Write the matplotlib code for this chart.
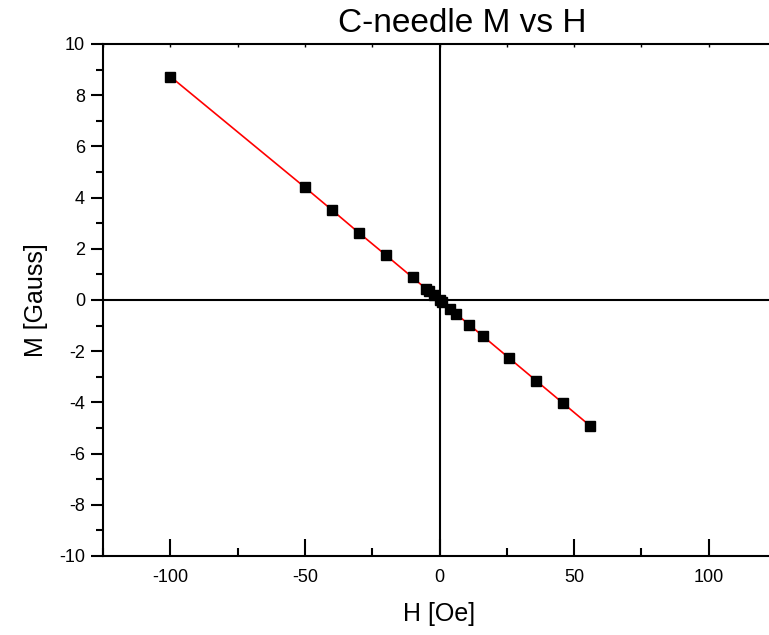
import matplotlib
matplotlib.use("Agg")
import matplotlib.pyplot as plt
from matplotlib.ticker import MultipleLocator

plt.rcParams["font.family"] = ["Liberation Sans", "DejaVu Sans"]
plt.rcParams["axes.unicode_minus"] = False

# field H [Oe] and magnetisation M [Gauss]
H = [-100, -50, -40, -30, -20, -10, -5, -4, -2, 0, 1, 4, 6, 11, 16, 26, 36, 46, 56]
M = [8.73, 4.40, 3.52, 2.63, 1.76, 0.88, 0.44, 0.35, 0.18, 0.0, -0.09,
     -0.35, -0.53, -0.96, -1.40, -2.28, -3.16, -4.04, -4.92]

fig = plt.figure(figsize=(7.69, 6.35), dpi=100)
ax = fig.add_axes([103 / 769, 79 / 635, 673 / 769, 512 / 635])

ax.axhline(0, color="black", linewidth=1.5, zorder=1)
ax.axvline(0, color="black", linewidth=1.5, zorder=1)

ax.plot(H, M, color="red", linewidth=1.2, zorder=2)
ax.plot(H, M, "s", color="black", markersize=7, zorder=3)

ax.set_xlim(-125, 125)
ax.set_ylim(-10, 10)
ax.xaxis.set_major_locator(MultipleLocator(50))
ax.xaxis.set_minor_locator(MultipleLocator(25))
ax.yaxis.set_major_locator(MultipleLocator(2))
ax.yaxis.set_minor_locator(MultipleLocator(1))

for spine in ax.spines.values():
    spine.set_linewidth(1.5)

ax.tick_params(axis="x", which="major", direction="in", length=12, width=1.5,
               labelsize=13, pad=9)
ax.tick_params(axis="x", which="minor", direction="in", length=6, width=1.5)
ax.tick_params(axis="x", which="both", top=True)
ax.tick_params(axis="y", which="major", direction="out", length=9, width=1.5,
               labelsize=13, pad=4)
ax.tick_params(axis="y", which="minor", direction="out", length=5, width=1.5)

# top ticks are barely visible in the original
for tick in ax.xaxis.get_major_ticks() + ax.xaxis.get_minor_ticks():
    tick.tick2line.set_markersize(2)
    tick.tick2line.set_markeredgewidth(1)

ax.set_xlabel("H [Oe]", fontsize=18, labelpad=12)
ax.set_ylabel("M [Gauss]", fontsize=18, labelpad=8)
fig.text(462 / 769, 1 - 24 / 635, "C-needle M vs H", fontsize=24,
         ha="center", va="center")

fig.savefig("out.png", dpi=100)
